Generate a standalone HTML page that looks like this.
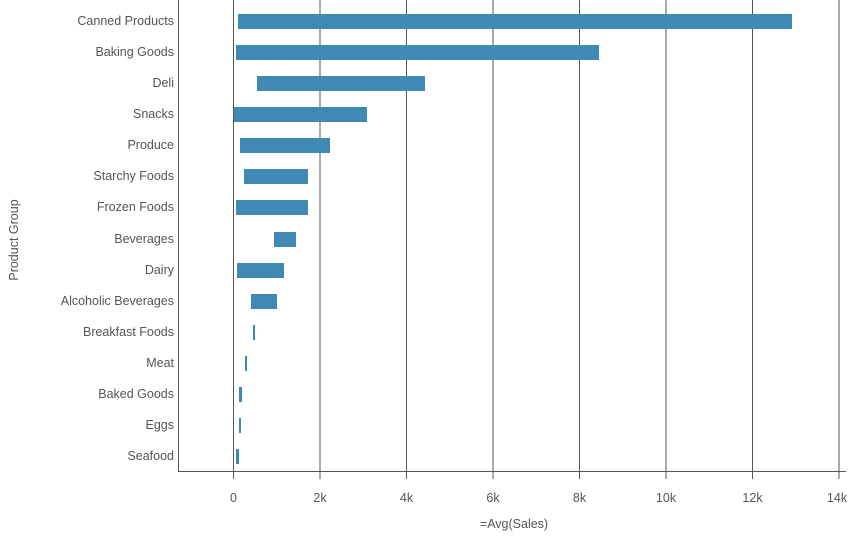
<!DOCTYPE html>
<html><head><style>body{margin:0;background:#fff}svg{display:block}text{font-family:"Liberation Sans",sans-serif;fill:#555;font-size:12.5px}</style></head><body>
<svg width="854" height="543" viewBox="0 0 854 543">
<g stroke="#555" stroke-width="1">
<line x1="178.5" y1="0" x2="178.5" y2="472"/>
<line x1="178.5" y1="471.5" x2="846" y2="471.5"/>
<line x1="233.5" y1="0" x2="233.5" y2="479"/>
<line x1="320" y1="0" x2="320" y2="479"/>
<line x1="406.5" y1="0" x2="406.5" y2="479"/>
<line x1="493" y1="0" x2="493" y2="479"/>
<line x1="579.5" y1="0" x2="579.5" y2="479"/>
<line x1="666" y1="0" x2="666" y2="479"/>
<line x1="752.5" y1="0" x2="752.5" y2="479"/>
<line x1="839" y1="0" x2="839" y2="479"/>
</g>
<g text-anchor="middle">
<text x="233.5" y="502">0</text><text x="320" y="502">2k</text><text x="406.5" y="502">4k</text><text x="493" y="502">6k</text><text x="579.5" y="502">8k</text><text x="666" y="502">10k</text><text x="752.5" y="502">12k</text><text x="837" y="502">14k</text>
<text x="514" y="528">=Avg(Sales)</text>
<text transform="translate(18,240) rotate(-90)">Product Group</text>
</g>
<g fill="#3e8ab5">
<rect x="238" y="14" width="554" height="15"/>
<rect x="236" y="45" width="363" height="15"/>
<rect x="257" y="76" width="168" height="15"/>
<rect x="234" y="107" width="133" height="15"/>
<rect x="240" y="138" width="90" height="15"/>
<rect x="244" y="169" width="64" height="15"/>
<rect x="236" y="200" width="72" height="15"/>
<rect x="274" y="232" width="22" height="15"/>
<rect x="237" y="263" width="47" height="15"/>
<rect x="251" y="294" width="26" height="15"/>
<rect x="253" y="325" width="2" height="15"/>
<rect x="245" y="356" width="2" height="15"/>
<rect x="239" y="387" width="3" height="15"/>
<rect x="239" y="418" width="2" height="15"/>
<rect x="236" y="449" width="3" height="15"/>
</g>
<g text-anchor="end">
<text x="174" y="25">Canned Products</text>
<text x="174" y="56">Baking Goods</text>
<text x="174" y="87">Deli</text>
<text x="174" y="118">Snacks</text>
<text x="174" y="149">Produce</text>
<text x="174" y="180">Starchy Foods</text>
<text x="174" y="211">Frozen Foods</text>
<text x="174" y="243">Beverages</text>
<text x="174" y="274">Dairy</text>
<text x="174" y="305">Alcoholic Beverages</text>
<text x="174" y="336">Breakfast Foods</text>
<text x="174" y="367">Meat</text>
<text x="174" y="398">Baked Goods</text>
<text x="174" y="429">Eggs</text>
<text x="174" y="460">Seafood</text>
</g>
</svg>
</body></html>
